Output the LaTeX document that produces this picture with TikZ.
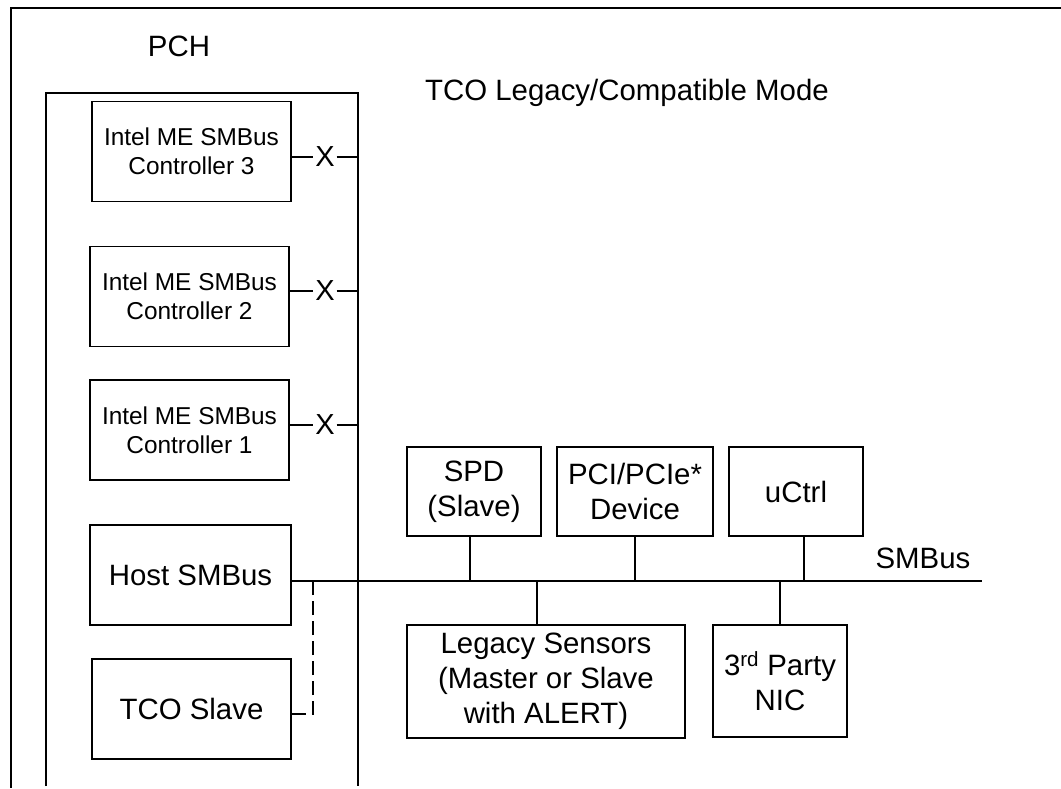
\documentclass[tikz,border=0pt]{standalone}
\usepackage{fontspec}
\setmainfont{Liberation Sans}
\begin{document}
\begin{tikzpicture}[x=1pt,y=-1pt,line width=1.8pt,
    font=\fontsize{29.4}{35}\selectfont,
    unit/.style={draw,rectangle,inner sep=0pt,align=center},
    meunit/.style={unit,minimum width=199pt,minimum height=100pt,
      font=\fontsize{24.4}{29}\selectfont},
    cut/.style={inner sep=1pt,font=\fontsize{29}{30}\selectfont}]

    \useasboundingbox (0,0) rectangle (1061,788);
    \draw[line width=2.7pt] (1061,8) -- (11,8) -- (11,788);

    \node (pch) at (179,46) {PCH};
    \node (mode) at (627,93) {TCO Legacy/Compatible Mode};
    \coordinate (pchsw) at (46,786);
    \coordinate (pchnw) at (46,93);
    \coordinate (pchne) at (358,93);
    \coordinate (pchse) at (358,786);
    \draw (pchsw) -- (pchnw) -- (pchne) -- (pchse);

    % ME controllers, cut off from the bus
    \node[meunit] (me3) at (191.5,151.5) {Intel ME SMBus\\Controller 3};
    \node[meunit] (me2) at (189.5,296.5) {Intel ME SMBus\\Controller 2};
    \node[meunit] (me1) at (189.5,430) {Intel ME SMBus\\Controller 1};
    \node[cut] (x3) at (325,157) {X};
    \node[cut] (x2) at (325,291) {X};
    \node[cut] (x1) at (325,425) {X};
    \draw (me3.east |- x3) -- (x3.west);
    \draw (x3.east) -- (x3 -| pchne);
    \draw (me2.east |- x2) -- (x2.west);
    \draw (x2.east) -- (x2 -| pchne);
    \draw (me1.east |- x1) -- (x1.west);
    \draw (x1.east) -- (x1 -| pchne);

    \node[unit,minimum width=201pt,minimum height=100pt] (host) at (190.5,575) {Host SMBus};
    \node[unit,minimum width=199pt,minimum height=100pt] (tco) at (191.5,709) {TCO Slave};

    % the bus
    \coordinate (busend) at (982,581);
    \coordinate (tap) at (313,581);
    \draw (host.east |- busend) -- (busend);
    \draw[line width=2.6pt,dash pattern=on 14pt off 6pt] ([yshift=-5pt]tco.east) -| (tap);
    \node (smbus) at (923,558) {SMBus};

    \node[unit,minimum width=134pt,minimum height=89pt] (spd) at (474,491.5) {SPD\\(Slave)};
    \node[unit,minimum width=156pt,minimum height=89pt] (pci) at (635,491.5) {PCI/PCIe*\\Device};
    \node[unit,minimum width=134pt,minimum height=89pt] (uctrl) at (796,491.5) {uCtrl};
    \node[unit,minimum width=278pt,minimum height=113pt] (legacy) at (546,681.5) {Legacy Sensors\\(Master or Slave\\with ALERT)};
    \node[unit,minimum width=134pt,minimum height=112pt] (nic) at (780,681) {3\textsuperscript{rd} Party\\NIC};

    \draw ([xshift=-4pt]spd.south) -- ([xshift=-4pt]spd.south |- busend);
    \draw (pci.south) -- (pci.south |- busend);
    \draw ([xshift=8pt]uctrl.south) -- ([xshift=8pt]uctrl.south |- busend);
    \draw ([xshift=-9pt]legacy.north) -- ([xshift=-9pt]legacy.north |- busend);
    \draw (nic.north) -- (nic.north |- busend);
\end{tikzpicture}
\end{document}
